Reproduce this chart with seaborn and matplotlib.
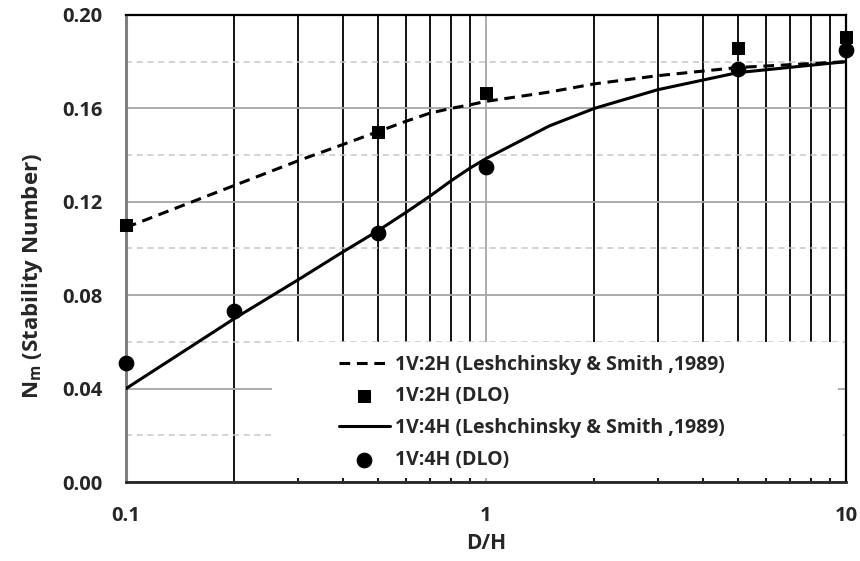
import numpy as np
import pandas as pd
import seaborn as sns
import matplotlib.pyplot as plt
from matplotlib.patches import Rectangle
from matplotlib.ticker import MultipleLocator, LogLocator, FixedLocator, FormatStrFormatter, NullFormatter

# Leshchinsky & Smith (1989) curves
curve_dh = [0.1, 0.2, 0.3, 0.4, 0.5, 0.6, 0.7, 0.8, 0.9, 1, 1.5, 2, 3, 5, 10]
curve_2h = [0.109, 0.127, 0.1375, 0.1445, 0.150, 0.1545, 0.158, 0.160, 0.1615, 0.163,
            0.167, 0.1705, 0.174, 0.1775, 0.180]
curve_4h = [0.040, 0.070, 0.0865, 0.0985, 0.1075, 0.1155, 0.1225, 0.129, 0.1343, 0.1385,
            0.1525, 0.160, 0.168, 0.1753, 0.180]

# DLO results
dlo_2h_dh = [0.1, 0.5, 1, 5, 10]
dlo_2h = [0.110, 0.150, 0.1665, 0.186, 0.1905]
dlo_4h_dh = [0.1, 0.2, 0.5, 1, 5, 10]
dlo_4h = [0.051, 0.0732, 0.1066, 0.1348, 0.1769, 0.185]

labels = ["1V:2H (Leshchinsky & Smith ,1989)", "1V:2H (DLO)",
          "1V:4H (Leshchinsky & Smith ,1989)", "1V:4H (DLO)"]

sns.set_style("white")
plt.rcParams['font.family'] = ['Open Sans', 'DejaVu Sans']
plt.rcParams['font.weight'] = 'bold'
plt.rcParams['mathtext.fontset'] = 'custom'
plt.rcParams['mathtext.rm'] = 'Open Sans:bold'
plt.rcParams['mathtext.bf'] = 'Open Sans:bold'

fig = plt.figure(figsize=(8.6, 5.61), dpi=100)
ax = fig.add_axes([0.1465, 0.1408, 0.8372, 0.8325])

df_curve = pd.DataFrame({"dh": curve_dh, "v2": curve_2h, "v4": curve_4h})

sns.lineplot(data=df_curve, x="dh", y="v2", ax=ax, color="black", lw=2.2,
             linestyle=(0, (3.5, 2.2)), label=labels[0], zorder=3)
sns.scatterplot(x=dlo_2h_dh, y=dlo_2h, ax=ax, color="black", marker="s", s=85,
                edgecolor="black", label=labels[1], clip_on=False, zorder=4)
sns.lineplot(data=df_curve, x="dh", y="v4", ax=ax, color="black", lw=2.2,
             label=labels[2], zorder=3)
sns.scatterplot(x=dlo_4h_dh, y=dlo_4h, ax=ax, color="black", marker="o", s=110,
                edgecolor="black", label=labels[3], clip_on=False, zorder=4)

ax.set_xscale("log")
ax.set_xlim(0.1, 10)
ax.set_ylim(0, 0.2)

ax.xaxis.set_major_locator(FixedLocator([0.1, 1, 10]))
ax.set_xticklabels(["0.1", "1", "10"])
ax.xaxis.set_minor_locator(LogLocator(base=10, subs=np.arange(2, 10)))
ax.xaxis.set_minor_formatter(NullFormatter())
ax.yaxis.set_major_locator(MultipleLocator(0.04))
ax.yaxis.set_minor_locator(MultipleLocator(0.02))
ax.yaxis.set_major_formatter(FormatStrFormatter('%.2f'))

ax.grid(which="major", axis="y", color="#a6a6a6", lw=1.3, ls="-")
ax.grid(which="minor", axis="y", color="#c8c8c8", lw=1.1, ls=(0, (4, 3)))
ax.grid(which="major", axis="x", color="#a6a6a6", lw=1.3, ls="-")
ax.grid(which="minor", axis="x", color="black", lw=1.3, ls="-")
ax.set_axisbelow(True)

ax.tick_params(axis="both", which="both", direction="in", length=3, width=1,
               color="black", labelsize=14.5)
ax.tick_params(axis="x", which="major", length=0, pad=17)
ax.tick_params(axis="y", pad=17)
for lab in ax.get_xticklabels() + ax.get_yticklabels():
    lab.set_fontweight("bold")

ax.set_xlabel("D/H", fontsize=15, fontweight="bold", labelpad=5)
ax.set_ylabel(r"N$_\mathbf{m}$ (Stability Number)", fontsize=16,
              fontweight="bold")
ax.yaxis.set_label_coords(-0.113, 0.44)

for side in ["top", "right"]:
    ax.spines[side].set_color("black")
    ax.spines[side].set_linewidth(1.6)
ax.spines["left"].set_color("#7f7f7f")
ax.spines["left"].set_linewidth(2.2)
ax.spines["bottom"].set_color("#262626")
ax.spines["bottom"].set_linewidth(2.0)

# white legend area, wider than the entries like the original
ax.add_patch(Rectangle((0.203, 0.009), 0.786, 0.291, transform=ax.transAxes,
                       facecolor="white", edgecolor="none", zorder=2.5))

leg = ax.legend(loc="upper left", bbox_to_anchor=(0.296, 0.273),
                frameon=False, fontsize=14, handlelength=2.6,
                handletextpad=0.3, labelspacing=0.61, borderpad=0,
                borderaxespad=0)
leg.set_zorder(5)
for t in leg.get_texts():
    t.set_fontweight("bold")

fig.savefig("out.png", dpi=100)
